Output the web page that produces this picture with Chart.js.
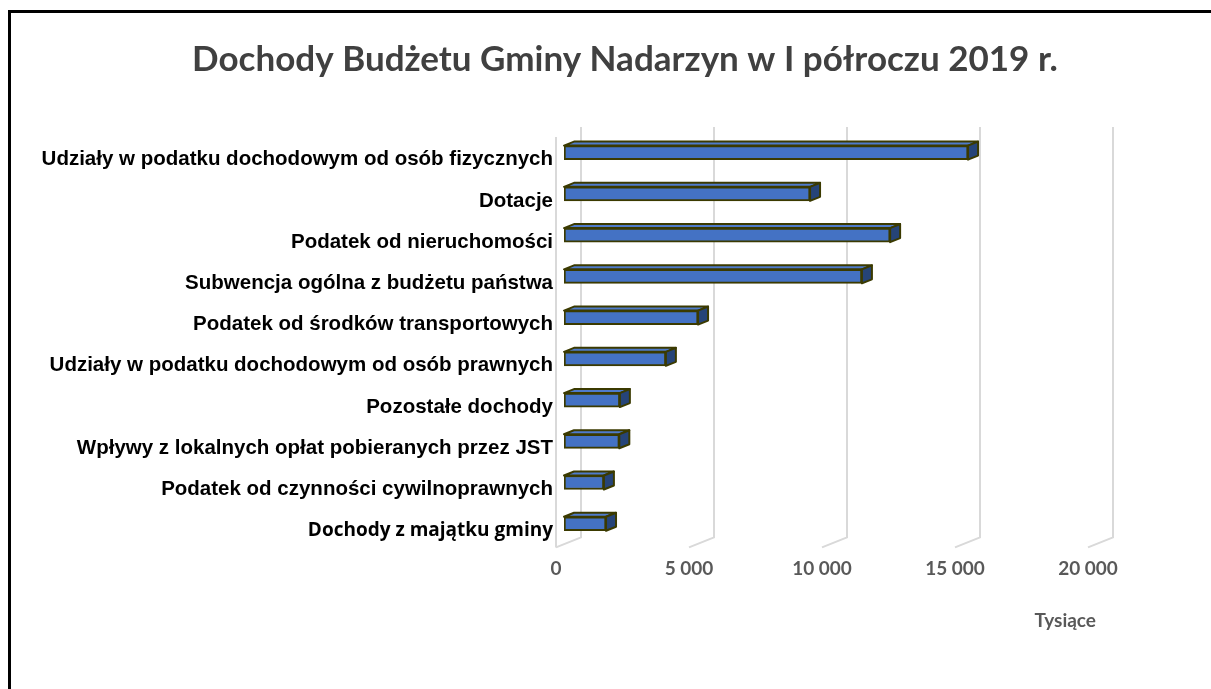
<!doctype html>
<html lang="pl">
  <head>
    <meta charset="utf-8">
    <title>Dochody Budżetu Gminy Nadarzyn</title>
    <style>
      html, body { margin: 0; padding: 0; background: #fff; overflow: hidden; }
      #wrap { position: relative; width: 1211px; height: 689px; }
      #frame { position: absolute; left: 8px; top: 10px; width: 1300px; height: 800px;
               border-left: 3px solid #000; border-top: 3px solid #000; box-sizing: border-box; }
      canvas { position: absolute; left: 0; top: 0; }
    </style>
  </head>
  <body>
    <div id="wrap">
      <div id="frame"></div>
      <canvas id="myChart" width="1211" height="689"></canvas>
    </div>

    <script src="https://cdn.jsdelivr.net/npm/chart.js"></script>
    <script>
        // dane (tys. zł)
        var categories = [
            'Udziały w podatku dochodowym od osób fizycznych',
            'Dotacje',
            'Podatek od nieruchomości',
            'Subwencja ogólna z budżetu państwa',
            'Podatek od środków transportowych',
            'Udziały w podatku dochodowym od osób prawnych',
            'Pozostałe dochody',
            'Wpływy z lokalnych opłat pobieranych przez JST',
            'Podatek od czynności cywilnoprawnych',
            'Dochody z majątku gminy'
        ];
        var values = [15190, 9250, 12260, 11200, 5040, 3830, 2100, 2080, 1500, 1580];
        var tickValues = [0, 5000, 10000, 15000, 20000];

        var DX = 10, DY = 4;          // glebokosc slupka 3D
        var WALL_DX = 25, WALL_DY = 10; // przesuniecie tylnej sciany

        function fmt(v) {
            return String(v).replace(/\B(?=(\d{3})+(?!\d))/g, ' ');
        }

        // siatka w stylu wykresu 3D z Excela
        var wallPlugin = {
            id: 'wall',
            beforeDatasetsDraw: function(chart) {
                var ctx = chart.ctx, xs = chart.scales.x, area = chart.chartArea;
                var floorFront = area.bottom + 3, floorBack = floorFront - WALL_DY;
                var top = area.top - 5;
                ctx.save();
                ctx.strokeStyle = '#d9d9d9';
                ctx.lineWidth = 2;
                tickValues.forEach(function(v) {
                    var front = xs.getPixelForValue(v) - 8;
                    var back = front + WALL_DX;
                    ctx.beginPath();
                    ctx.moveTo(back, top);
                    ctx.lineTo(back, floorBack);
                    ctx.lineTo(front, floorFront);
                    ctx.stroke();
                });
                var x0 = xs.getPixelForValue(0) - 8;
                ctx.beginPath();
                ctx.moveTo(x0, top + WALL_DY);
                ctx.lineTo(x0, floorFront);
                ctx.stroke();
                ctx.restore();
            }
        };

        // gorna i boczna sciana slupkow
        var bar3dPlugin = {
            id: 'bar3d',
            afterDatasetsDraw: function(chart) {
                var ctx = chart.ctx;
                var meta = chart.getDatasetMeta(0);
                ctx.save();
                ctx.lineWidth = 2;
                ctx.lineJoin = 'round';
                ctx.strokeStyle = '#3b3a00';
                meta.data.forEach(function(bar) {
                    var p = bar.getProps(['x', 'y', 'base', 'height'], true);
                    var t = p.y - p.height / 2, b = p.y + p.height / 2;
                    var l = p.base, r = p.x;
                    ctx.fillStyle = '#4f7bcb';
                    ctx.beginPath();
                    ctx.moveTo(l, t);
                    ctx.lineTo(l + DX, t - DY);
                    ctx.lineTo(r + DX, t - DY);
                    ctx.lineTo(r, t);
                    ctx.closePath();
                    ctx.fill();
                    ctx.stroke();
                    ctx.fillStyle = '#264478';
                    ctx.beginPath();
                    ctx.moveTo(r, t);
                    ctx.lineTo(r + DX, t - DY);
                    ctx.lineTo(r + DX, b - DY);
                    ctx.lineTo(r, b);
                    ctx.closePath();
                    ctx.fill();
                    ctx.stroke();
                });
                ctx.restore();
            }
        };

        var ctx = document.getElementById('myChart');
        new Chart(ctx, {
            type: 'bar',
            data: {
                labels: categories,
                datasets: [{
                    data: values,
                    backgroundColor: '#4472c4',
                    borderColor: '#3b3a00',
                    borderWidth: 2,
                    borderSkipped: false,
                    barThickness: 14
                }]
            },
            plugins: [wallPlugin, bar3dPlugin],
            options: {
                indexAxis: 'y',
                responsive: false,
                animation: false,
                layout: { padding: { left: 40, right: 1, top: 0, bottom: 57 } },
                plugins: {
                    legend: { display: false },
                    tooltip: { enabled: false },
                    title: {
                        display: true,
                        text: 'Dochody Budżetu Gminy Nadarzyn w I półroczu 2019 r.',
                        color: '#404040',
                        font: { family: 'Lato', size: 35, weight: 'bold' },
                        padding: { top: 39, bottom: 51 }
                    }
                },
                scales: {
                    x: {
                        min: 0,
                        max: 20000,
                        afterBuildTicks: function(scale) {
                            scale.ticks = tickValues.map(function(v) { return { value: v }; });
                        },
                        grid: { display: false, drawTicks: false },
                        border: { display: false },
                        ticks: {
                            color: '#595959',
                            font: { family: 'Lato', size: 19, weight: 'bold' },
                            padding: 13,
                            labelOffset: -8,
                            maxRotation: 0,
                            callback: function(v) { return fmt(v); }
                        },
                        title: {
                            display: true,
                            text: 'Tysiące',
                            align: 'end',
                            color: '#595959',
                            font: { family: 'Lato', size: 19, weight: 'bold' },
                            padding: { top: 16, bottom: 0 }
                        }
                    },
                    y: {
                        afterFit: function(scale) { scale.width = 524; },
                        grid: { display: false, drawTicks: false },
                        border: { display: false },
                        ticks: {
                            color: '#000',
                            padding: 11,
                            labelOffset: 7,
                            autoSkip: false,
                            font: function(c) {
                                if (c.index === categories.length - 1) {
                                    return { family: '"Open Sans"', size: 19, weight: 'bold' };
                                }
                                return { family: '"Liberation Sans", Arial, sans-serif', size: 20.5, weight: 'bold' };
                            }
                        }
                    },
                    // pusta os po prawej - rezerwuje miejsce obok wykresu
                    yRight: {
                        type: 'category',
                        position: 'right',
                        afterFit: function(scale) { scale.width = 114; },
                        grid: { display: false, drawTicks: false },
                        border: { display: false },
                        ticks: { display: false }
                    }
                }
            }
        });
    </script>
  </body>
</html>
